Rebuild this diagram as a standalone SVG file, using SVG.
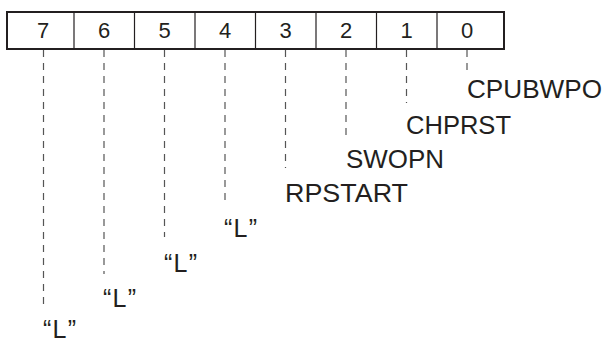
<svg xmlns="http://www.w3.org/2000/svg" width="607" height="344" viewBox="0 0 607 344">
<style>
.t{font-family:"Liberation Sans",Arial,sans-serif;fill:#231f20}
.d{font-size:22px;text-anchor:middle}
.l{font-size:25px}
.div{stroke:#231f20;stroke-width:1.2}
.c{stroke:#555;stroke-width:1.2;stroke-dasharray:7 6;fill:none}
</style>
<rect width="607" height="344" fill="#fff"/>
<g id="register">
<rect x="7" y="12" width="497" height="37" fill="none" stroke="#231f20" stroke-width="2"/>
<line class="div" x1="74" y1="12" x2="74" y2="49"/>
<line class="div" x1="134.5" y1="12" x2="134.5" y2="49"/>
<line class="div" x1="195" y1="12" x2="195" y2="49"/>
<line class="div" x1="255.5" y1="12" x2="255.5" y2="49"/>
<line class="div" x1="316" y1="12" x2="316" y2="49"/>
<line class="div" x1="376.5" y1="12" x2="376.5" y2="49"/>
<line class="div" x1="437" y1="12" x2="437" y2="49"/>
<text class="t d" x="43" y="37.5">7</text>
<text class="t d" x="104" y="37.5">6</text>
<text class="t d" x="164.5" y="37.5">5</text>
<text class="t d" x="225" y="37.5">4</text>
<text class="t d" x="285.5" y="37.5">3</text>
<text class="t d" x="346" y="37.5">2</text>
<text class="t d" x="406.5" y="37.5">1</text>
<text class="t d" x="467" y="37.5">0</text>
</g>
<g id="connectors">
<line class="c" x1="467" y1="50" x2="467" y2="71"/>
<line class="c" x1="406.5" y1="50" x2="406.5" y2="103"/>
<line class="c" x1="346" y1="50" x2="346" y2="137"/>
<line class="c" x1="285.5" y1="50" x2="285.5" y2="168"/>
<line class="c" x1="225" y1="50" x2="225" y2="205"/>
<line class="c" x1="164.5" y1="50" x2="164.5" y2="237"/>
<line class="c" x1="104" y1="50" x2="104" y2="274"/>
<line class="c" x1="43.5" y1="50" x2="43.5" y2="308"/>
</g>
<g id="bit0"><text class="t l" x="467" y="98" textLength="135" lengthAdjust="spacingAndGlyphs">CPUBWPO</text></g>
<g id="bit1"><text class="t l" x="406" y="133.5" textLength="105" lengthAdjust="spacingAndGlyphs">CHPRST</text></g>
<g id="bit2"><text class="t l" x="346" y="167.5" textLength="98" lengthAdjust="spacingAndGlyphs">SWOPN</text></g>
<g id="bit3"><text class="t l" x="285" y="202" textLength="123" lengthAdjust="spacingAndGlyphs">RPSTART</text></g>
<g id="bit4"><text class="t l" x="224" y="237" textLength="33">“L”</text></g>
<g id="bit5"><text class="t l" x="164" y="272" textLength="33">“L”</text></g>
<g id="bit6"><text class="t l" x="103" y="306.5" textLength="33">“L”</text></g>
<g id="bit7"><text class="t l" x="43" y="338" textLength="33">“L”</text></g>
</svg>
